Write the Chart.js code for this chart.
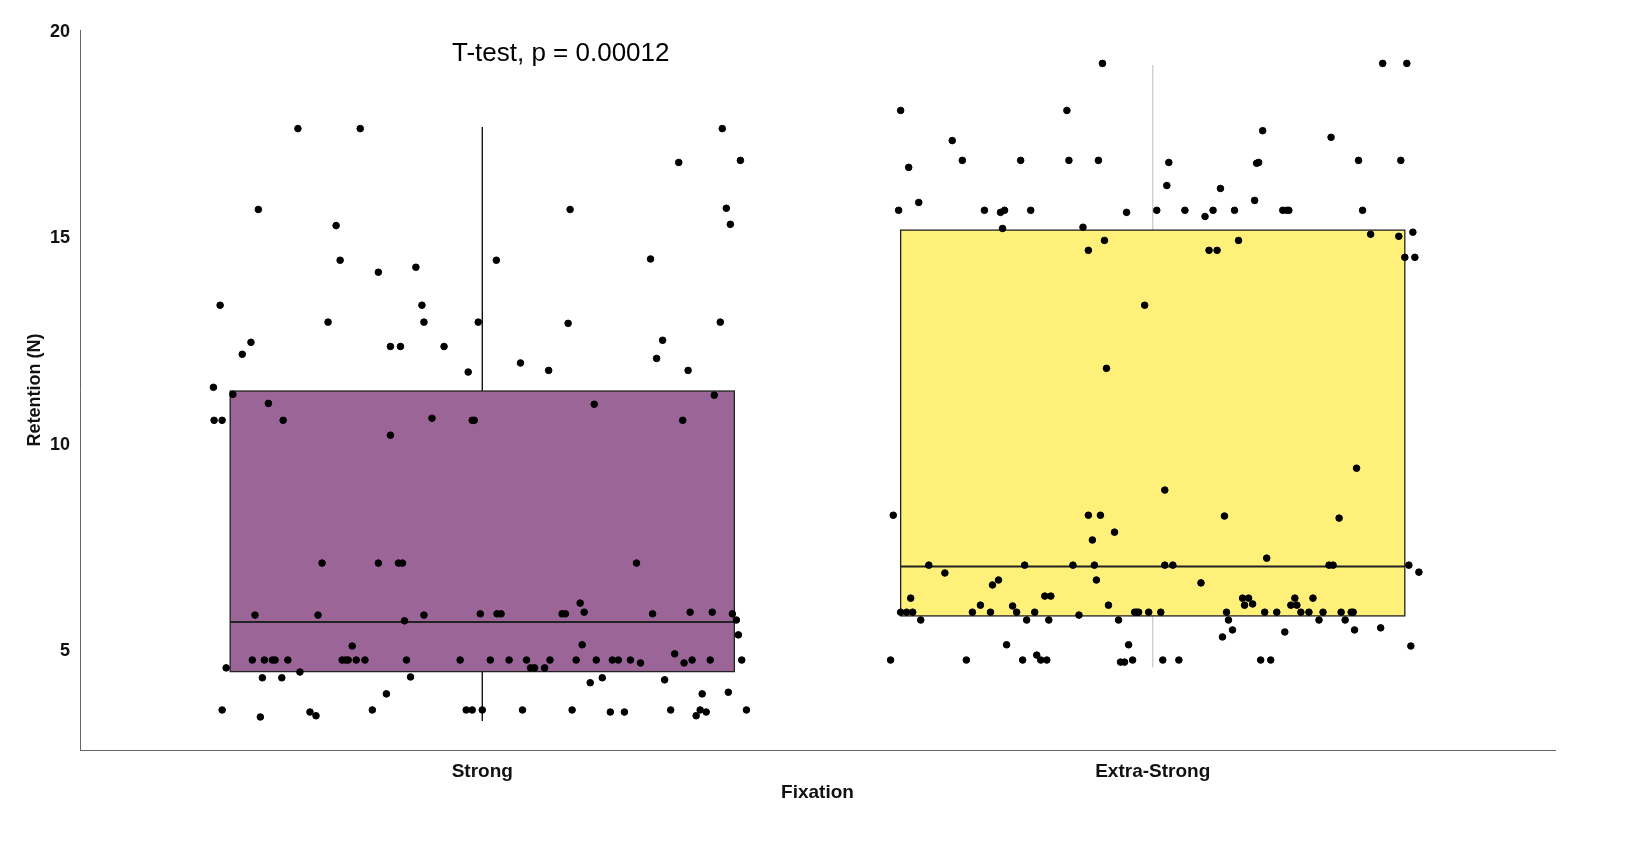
<!DOCTYPE html>
<html>
<head>
<meta charset="utf-8">
<script src="https://cdn.jsdelivr.net/npm/chart.js@4/dist/chart.umd.min.js"></script>
<style>
  html, body { margin: 0; padding: 0; background: #fff; }
  #wrap { width: 1637px; height: 863px; }
</style>
</head>
<body>
<div id="wrap"><canvas id="grafico"></canvas></div>
<script>
// categorias e caixas (quartis)
const categorias = ['Strong', 'Extra-Strong'];
const q1 = [4.5, 5.85];
const mediana = [5.7, 7.05];
const q3 = [11.3, 15.2];
const bigodeMin = [3.3, 4.6];
const bigodeMax = [17.7, 19.2];
const corCaixa = ['#9b6598', '#fff07a'];
const corBigode = ['#000000', '#cccccc'];
const yTicks = [5, 10, 15, 20];
const titulo = 'T-test, p = 0.00012';

// pontos com jitter: [deslocamento x, valor]
const pontosStrong = [[-0.401,11.39],[-0.391,13.38],[-0.40,10.59],[-0.388,10.59],[-0.388,3.57],[-0.382,4.59],[-0.372,11.22],[-0.358,12.19],[-0.345,12.48],[-0.334,15.70],[-0.339,5.87],[-0.331,3.40],[-0.328,4.35],[-0.325,4.78],[-0.343,4.78],[-0.319,11.0],[-0.313,4.78],[-0.309,4.78],[-0.299,4.35],[-0.290,4.78],[-0.275,17.66],[-0.297,10.59],[-0.272,4.49],[-0.257,3.52],[-0.248,3.43],[-0.245,5.87],[-0.239,7.13],[-0.230,12.97],[-0.218,15.31],[-0.212,14.47],[-0.209,4.78],[-0.204,4.78],[-0.2,4.78],[-0.194,5.12],[-0.188,4.78],[-0.182,17.66],[-0.175,4.78],[-0.164,3.57],[-0.155,14.18],[-0.155,7.13],[-0.143,3.96],[-0.137,10.23],[-0.137,12.38],[-0.125,7.13],[-0.119,7.13],[-0.122,12.38],[-0.116,5.73],[-0.113,4.78],[-0.107,4.37],[-0.099,14.3],[-0.09,13.38],[-0.087,12.97],[-0.075,10.64],[-0.087,5.87],[-0.057,12.38],[-0.033,4.78],[-0.021,11.76],[-0.015,10.59],[-0.012,10.59],[-0.024,3.57],[-0.015,3.57],[0,3.57],[-0.006,12.97],[-0.003,5.9],[0.012,4.78],[0.021,14.47],[0.022,5.9],[0.028,5.9],[0.04,4.78],[0.057,11.98],[0.06,3.57],[0.066,4.78],[0.072,4.59],[0.078,4.59],[0.093,4.59],[0.099,11.8],[0.101,4.78],[0.119,5.9],[0.124,5.9],[0.128,12.94],[0.131,15.70],[0.134,3.57],[0.14,4.78],[0.146,6.16],[0.149,5.15],[0.152,5.94],[0.161,4.23],[0.167,10.98],[0.17,4.78],[0.179,4.35],[0.191,3.52],[0.194,4.78],[0.203,4.78],[0.212,3.52],[0.221,4.78],[0.23,7.13],[0.236,4.71],[0.251,14.5],[0.254,5.9],[0.26,12.09],[0.269,12.53],[0.272,4.30],[0.281,3.57],[0.287,4.93],[0.293,16.84],[0.299,10.59],[0.301,4.71],[0.307,11.8],[0.31,5.94],[0.313,4.78],[0.319,3.43],[0.325,3.57],[0.328,3.96],[0.334,3.52],[0.34,4.78],[0.343,5.94],[0.346,11.2],[0.355,12.97],[0.358,17.66],[0.364,15.73],[0.37,15.34],[0.367,4.0],[0.373,5.9],[0.379,5.75],[0.382,5.39],[0.385,16.89],[0.387,4.78],[0.394,3.57]];

const pontosExtra = [[-0.391,4.78],[-0.387,8.29],[-0.376,18.10],[-0.379,15.68],[-0.376,5.94],[-0.367,5.94],[-0.364,16.72],[-0.361,6.28],[-0.358,5.94],[-0.349,15.87],[-0.346,5.75],[-0.334,7.08],[-0.31,6.89],[-0.299,17.37],[-0.284,16.89],[-0.278,4.78],[-0.269,5.94],[-0.257,6.11],[-0.251,15.68],[-0.242,5.94],[-0.239,6.6],[-0.23,6.72],[-0.227,15.63],[-0.224,15.24],[-0.221,15.68],[-0.218,5.15],[-0.209,6.09],[-0.203,5.94],[-0.197,16.89],[-0.194,4.78],[-0.191,7.08],[-0.188,5.75],[-0.182,15.68],[-0.176,5.94],[-0.173,4.9],[-0.167,4.78],[-0.161,6.33],[-0.158,4.78],[-0.155,5.75],[-0.152,6.33],[-0.128,18.10],[-0.125,16.89],[-0.119,7.08],[-0.11,5.87],[-0.104,15.27],[-0.096,14.71],[-0.096,8.29],[-0.09,7.69],[-0.087,7.08],[-0.084,6.72],[-0.081,16.89],[-0.078,8.29],[-0.075,19.24],[-0.072,14.95],[-0.069,11.85],[-0.066,6.11],[-0.057,7.88],[-0.051,5.75],[-0.048,4.73],[-0.042,4.73],[-0.039,15.63],[-0.036,5.15],[-0.03,4.78],[-0.027,5.94],[-0.024,5.94],[-0.021,5.94],[-0.012,13.38],[-0.006,5.94],[0.006,15.68],[0.012,5.94],[0.015,4.78],[0.018,8.9],[0.018,7.08],[0.021,16.28],[0.024,16.84],[0.03,7.08],[0.039,4.78],[0.048,15.68],[0.072,6.65],[0.078,15.53],[0.084,14.71],[0.09,15.68],[0.096,14.71],[0.101,16.21],[0.104,5.34],[0.107,8.27],[0.11,5.94],[0.113,5.75],[0.119,5.51],[0.122,15.68],[0.128,14.95],[0.134,6.28],[0.137,6.11],[0.143,6.28],[0.149,6.14],[0.152,15.92],[0.155,16.82],[0.158,16.84],[0.161,4.78],[0.164,17.61],[0.167,5.94],[0.17,7.25],[0.176,4.78],[0.185,5.94],[0.194,15.68],[0.197,5.46],[0.2,15.68],[0.203,15.68],[0.206,6.11],[0.212,6.28],[0.215,6.11],[0.221,5.94],[0.233,5.94],[0.239,6.28],[0.248,5.75],[0.254,5.94],[0.263,7.08],[0.266,17.45],[0.269,7.08],[0.278,8.22],[0.281,5.94],[0.287,5.75],[0.296,5.94],[0.299,5.94],[0.301,5.51],[0.304,9.43],[0.307,16.89],[0.313,15.68],[0.325,15.1],[0.34,5.56],[0.343,19.24],[0.367,15.05],[0.37,16.89],[0.376,14.54],[0.379,19.24],[0.382,7.08],[0.385,5.12],[0.388,15.15],[0.391,14.54],[0.397,6.91]];

const meiaLargura = 0.376;
const fonte = 'Arial, "Liberation Sans", sans-serif';

function paraXY(lista, centro){
    return lista.map(p => ({x: centro + p[0], y: p[1]}));
}

// desenha bigodes, caixas e medianas usando as escalas do chart
const boxPlugin = {
    id: 'boxes',
    beforeDatasetsDraw(chart){
        const ctx = chart.ctx;
        const sx = chart.scales.x, sy = chart.scales.y;
        ctx.save();
        categorias.forEach((c, i) => {
            const cx = sx.getPixelForValue(i + 1);
            ctx.strokeStyle = corBigode[i];
            ctx.lineWidth = 1.3;
            ctx.beginPath();
            ctx.moveTo(cx, sy.getPixelForValue(bigodeMin[i]));
            ctx.lineTo(cx, sy.getPixelForValue(bigodeMax[i]));
            ctx.stroke();
            const x0 = sx.getPixelForValue(i + 1 - meiaLargura);
            const x1 = sx.getPixelForValue(i + 1 + meiaLargura);
            const y0 = sy.getPixelForValue(q3[i]);
            const y1 = sy.getPixelForValue(q1[i]);
            ctx.fillStyle = corCaixa[i];
            ctx.fillRect(x0, y0, x1 - x0, y1 - y0);
            ctx.strokeStyle = '#222';
            ctx.lineWidth = 1.3;
            ctx.strokeRect(x0, y0, x1 - x0, y1 - y0);
            const ym = sy.getPixelForValue(mediana[i]);
            ctx.lineWidth = 2;
            ctx.beginPath();
            ctx.moveTo(x0, ym);
            ctx.lineTo(x1, ym);
            ctx.stroke();
        });
        ctx.fillStyle = '#000';
        ctx.font = '26px ' + fonte;
        ctx.textAlign = 'center';
        ctx.textBaseline = 'middle';
        ctx.fillText(titulo, sx.getPixelForValue(1.117), sy.getPixelForValue(19.47));
        ctx.restore();
    }
};

const ctx = document.getElementById('grafico');
new Chart(ctx, {
    type: 'scatter',
    data: {
        datasets: [
            { data: paraXY(pontosStrong, 1), backgroundColor: '#000', borderColor: '#000', pointRadius: 3.3 },
            { data: paraXY(pontosExtra, 2), backgroundColor: '#000', borderColor: '#000', pointRadius: 3.3 }
        ]
    },
    options: {
        responsive: true,
        maintainAspectRatio: false,
        animation: false,
        layout: { padding: { left: 20, right: 82, top: 30, bottom: 55 } },
        plugins: { legend: { display: false }, tooltip: { enabled: false } },
        scales: {
            x: {
                type: 'linear', min: 0.4, max: 2.6,
                afterBuildTicks: (ax) => { ax.ticks = [{value: 1}, {value: 2}]; },
                afterFit: (ax) => { ax.height = 58; },
                grid: { display: false, drawTicks: true, tickLength: 6, color: '#555' },
                border: { color: '#666', width: 1 },
                ticks: {
                    color: '#111', font: { family: fonte, size: 19, weight: 'bold' }, padding: 4,
                    callback: (v) => categorias[v - 1] || ''
                },
                title: { display: true, text: 'Fixation', color: '#111', font: { family: fonte, size: 19, weight: 'bold' }, padding: { top: 2 } }
            },
            y: {
                min: 2.6, max: 20.05,
                afterBuildTicks: (ax) => { ax.ticks = yTicks.map(v => ({value: v})); },
                afterFit: (ax) => { ax.width = 60; },
                grid: { display: false, tickLength: 6 },
                border: { color: '#666', width: 1 },
                ticks: { color: '#111', font: { family: fonte, size: 18, weight: 'bold' }, padding: 4 },
                title: { display: true, text: 'Retention (N)', color: '#111', font: { family: fonte, size: 18, weight: 'bold' }, padding: { bottom: 2 } }
            }
        }
    },
    plugins: [boxPlugin]
});
</script>
</body>
</html>
